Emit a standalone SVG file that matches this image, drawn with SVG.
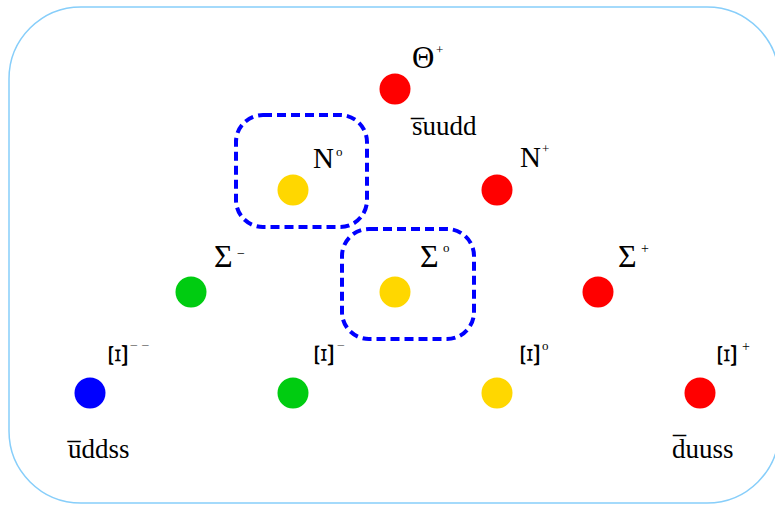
<svg xmlns="http://www.w3.org/2000/svg" width="775" height="505" viewBox="0 0 775 505">
<style>
text{font-family:"Liberation Serif","Times New Roman",serif;fill:#000}
.q{font-size:27px}
.big{font-size:29px}
.sig{font-size:32px}
.xi{font-size:28px}
.sup{font-size:14px}
.grey{fill:#666}
.r{fill:#ff0000}.y{fill:#ffd700}.g{fill:#00cc11}.b{fill:#0000ff}
.box{fill:none;stroke:#0000ff;stroke-width:4;stroke-dasharray:9 5}
</style>
<rect x="9" y="7" width="770" height="496" rx="72" ry="72" fill="#fff" stroke="#87cefa" stroke-width="1.5"/>
<g id="groups">
<rect class="box" x="236" y="115" width="131" height="112" rx="27"/>
<rect class="box" x="342" y="229" width="132" height="110" rx="27"/>
</g>
<g id="connectors"/>
<g id="theta">
<circle class="r" cx="395" cy="89" r="15.5"/>
<text x="412" y="68" style="font-size:31px">Θ</text>
<text class="sup" x="436" y="54" style="font-size:13px">+</text>
<text class="q" x="412" y="135">s̅uudd</text>
</g>
<g id="n0">
<circle class="y" cx="293" cy="190" r="15.5"/>
<text class="big" x="313" y="168">N</text>
<text class="sup" x="336" y="156" style="font-size:13px">o</text>
</g>
<g id="nplus">
<circle class="r" cx="497" cy="190" r="15.5"/>
<text class="big" x="520" y="167">N</text>
<text class="sup" x="542" y="153" style="font-size:13px">+</text>
</g>
<g id="sigmaminus">
<circle class="g" cx="191" cy="292" r="15.5"/>
<text class="sig" x="214" y="267">Σ</text>
<text class="sup" x="237" y="258">−</text>
</g>
<g id="sigma0">
<circle class="y" cx="395" cy="292" r="15.5"/>
<text class="sig" x="420" y="267">Σ</text>
<text class="sup" x="443" y="252" style="font-size:13px">o</text>
</g>
<g id="sigmaplus">
<circle class="r" cx="598" cy="292" r="15.5"/>
<text class="sig" x="618" y="267">Σ</text>
<text class="sup" x="641" y="253">+</text>
</g>
<g id="ximinusminus">
<circle class="b" cx="90" cy="393" r="15.5"/>
<text class="xi" text-anchor="middle" transform="translate(118,355.5) rotate(-90) scale(1.4,1)" y="9.2">Ξ</text>
<text class="sup grey" x="130" y="350">− −</text>
<text class="q" x="68" y="458">u̅ddss</text>
</g>
<g id="ximinus">
<circle class="g" cx="293" cy="393" r="15.5"/>
<text class="xi" text-anchor="middle" transform="translate(323.5,355) rotate(-90) scale(1.4,1)" y="9.2">Ξ</text>
<text class="sup grey" x="337" y="350">−</text>
</g>
<g id="xi0">
<circle class="y" cx="497" cy="393" r="15.5"/>
<text class="xi" text-anchor="middle" transform="translate(529.5,355) rotate(-90) scale(1.4,1)" y="9.2">Ξ</text>
<text class="sup" x="542" y="350" style="font-size:13px">o</text>
</g>
<g id="xiplus">
<circle class="r" cx="700" cy="393" r="15.5"/>
<text class="xi" text-anchor="middle" transform="translate(727,355.5) rotate(-90) scale(1.4,1)" y="9.2">Ξ</text>
<text class="sup" x="742" y="351">+</text>
<text class="q" x="672" y="458">d̅uuss</text>
</g>
</svg>
